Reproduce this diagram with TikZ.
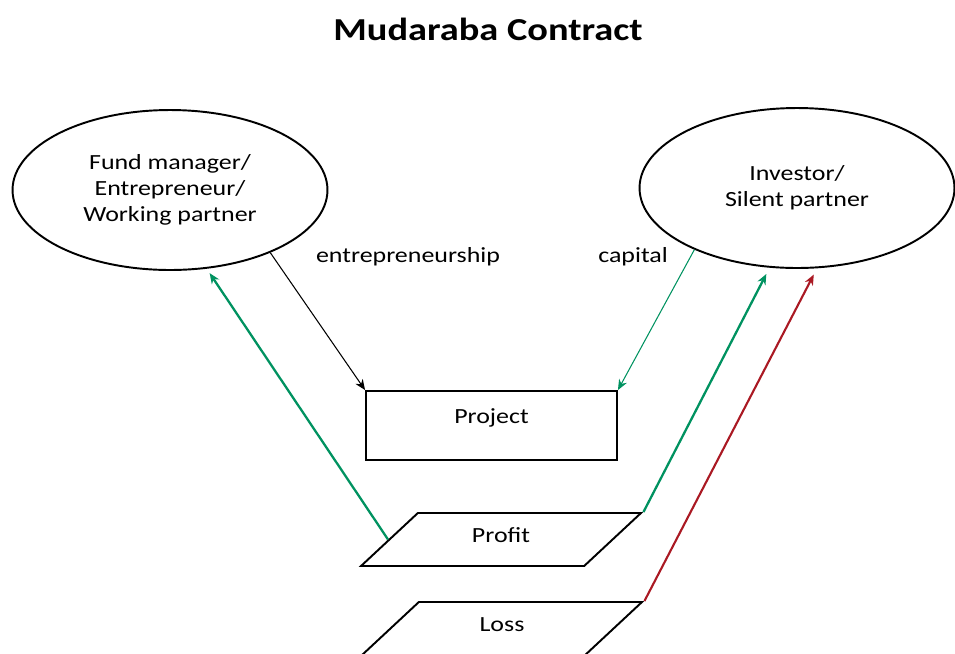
\documentclass[tikz,border=0pt]{standalone}
\usepackage{fontspec}
\setmainfont{Carlito}[FakeStretch=1.2]
\usetikzlibrary{shapes.geometric,arrows.meta}

\definecolor{flowgreen}{RGB}{0,146,96}
\definecolor{flowred}{RGB}{170,25,35}

\tikzset{
    party/.style={draw, ellipse, line width=1.1pt, align=center, minimum width=6.3cm, minimum height=3.2cm, inner sep=0pt},
    projbox/.style={draw, rectangle, line width=1.1pt, minimum width=5.02cm, minimum height=1.38cm, text height=0.64em, text depth=0.32cm},
    outcome/.style={draw, trapezium, trapezium left angle=43, trapezium right angle=137, trapezium stretches body, line width=1.1pt, minimum width=5.6cm, minimum height=1.06cm, inner xsep=1pt, inner ysep=0.26cm, text height=0.32cm, text depth=0.22cm},
    flowlabel/.style={inner sep=0pt}
}

\begin{document}
\begin{tikzpicture}[x=0.02cm, y=-0.02cm, >={Stealth[length=6pt, width=5pt]}, font=\fontsize{12.3pt}{14.8pt}\selectfont]
        \useasboundingbox (0,0) rectangle (955,653);

        % Title
        \node[inner sep=0pt] (title) at (488,29) {\fontsize{18.2pt}{22pt}\selectfont\bfseries Mudaraba Contract};

        % The two partners
        \node[party] (fm) at (170,190) {Fund manager/\\Entrepreneur/\\Working partner};
        \node[party] (inv) at (797,188) {Investor/\\Silent partner};

        % Project and its outcomes
        \node[projbox] (proj) at (491.5,425.5) {Project};
        \node[outcome] (profit) at (501,539.5) {Profit};
        \node[outcome] (loss) at (502,628.5) {Loss};

        % Contributions
        \node[flowlabel] (entre) at (408,257) {entrepreneurship};
        \node[flowlabel] (cap) at (633,257) {capital};
        \draw[->, line width=0.6pt] (fm.-32) -- (proj.north west);
        \draw[->, line width=0.6pt, flowgreen] (inv.-149) -- (proj.north east);

        % Profit and loss sharing
        \draw[->, line width=1.3pt, flowgreen, shorten >=3pt] (profit.west) -- (fm.-65);
        \draw[->, line width=1.3pt, flowgreen, shorten >=4pt] (profit.top right corner) -- (inv.-109);
        \draw[->, line width=1.2pt, flowred, shorten >=4pt] (loss.top right corner) -- (inv.-76);
    \end{tikzpicture}
\end{document}
